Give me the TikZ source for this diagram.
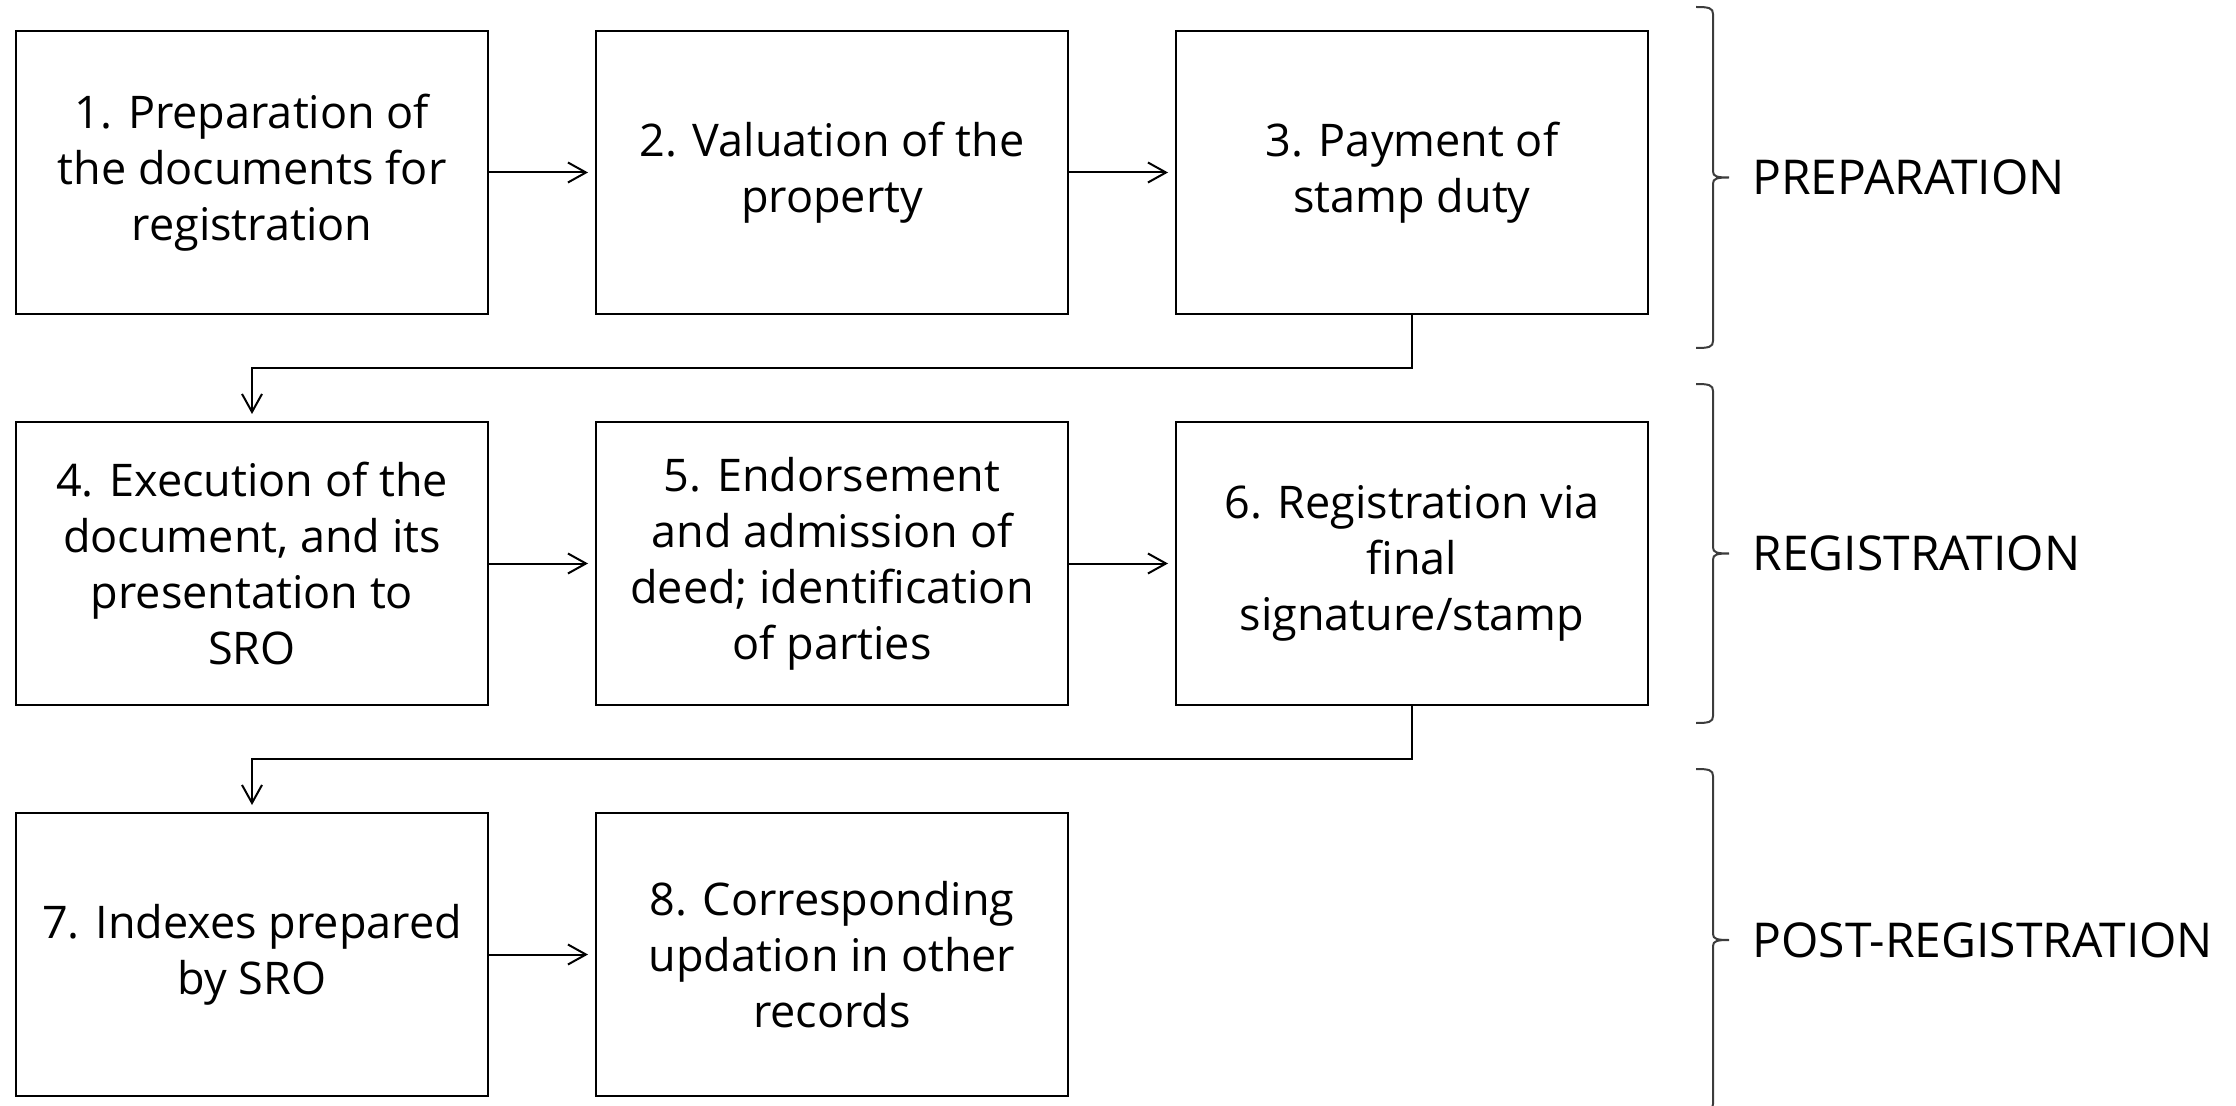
\documentclass[tikz,border=0pt]{standalone}
\usepackage{fontspec}
\setmainfont{Open Sans}
\usetikzlibrary{arrows.meta,positioning,calc}

\tikzset{
  stepbox/.style={draw, line width=1.2pt, minimum width=236pt, minimum height=141.5pt,
    align=center, inner sep=0pt, outer sep=0pt, font=\fontsize{22.5}{28}\selectfont},
  flow/.style={line width=1pt, -{Straight Barb[length=9pt,width=10pt,line width=1pt]}, shorten >=4pt},
  phasebrace/.style={line width=1pt, color={rgb,255:red,60;green,60;blue,60}},
  phase/.style={anchor=west, inner sep=0pt, font=\fontsize{24}{30}\selectfont}
}
% brace with flat hooks: #1 top y, #2 bottom y
\newcommand{\phasebrace}[2]{%
  \draw[phasebrace] (1696,#1) .. controls (1709,#1) and (1713,{#1+1}) .. (1713,{#1+7})
    -- (1713,{(#1+#2)/2-6}) .. controls (1713,{(#1+#2)/2-1}) and (1717,{(#1+#2)/2}) .. (1729,{(#1+#2)/2})
    .. controls (1717,{(#1+#2)/2}) and (1713,{(#1+#2)/2+1}) .. (1713,{(#1+#2)/2+6})
    -- (1713,{#2-7}) .. controls (1713,{#2-1}) and (1709,#2) .. (1696,#2);}

\begin{document}
\begin{tikzpicture}[x=0.5pt,y=-0.5pt,node distance=54pt and 54pt]
	\useasboundingbox (0,0) rectangle (2236,1106);
	
	%Shape: Boxes, row 1
	\node[stepbox] (s1) at (252,172.5) {1. Preparation of\\the documents for\\registration};
	\node[stepbox, right=of s1] (s2) {2. Valuation of the\\property};
	\node[stepbox, right=of s2] (s3) {3. Payment of\\stamp duty};
	%Shape: Boxes, row 2
	\node[stepbox, below=of s1] (s4) {4. Execution of the\\document, and its\\presentation to\\SRO};
	\node[stepbox, right=of s4] (s5) {5. Endorsement\\and admission of\\deed; identification\\of parties};
	\node[stepbox, right=of s5] (s6) {6. Registration via\\final\\signature/stamp};
	%Shape: Boxes, row 3
	\node[stepbox, below=of s4] (s7) {7. Indexes prepared\\by SRO};
	\node[stepbox, right=of s7] (s8) {8. Corresponding\\updation in other\\records};
	
	%Straight Lines
	\draw[flow] (s1.east) -- (s2.west);
	\draw[flow] (s2.east) -- (s3.west);
	\draw[flow] (s4.east) -- (s5.west);
	\draw[flow] (s5.east) -- (s6.west);
	\draw[flow] (s7.east) -- (s8.west);
	%Elbow Lines
	\coordinate (k1) at ($(s3.south)!0.5!(s4.north)$);
	\coordinate (k2) at ($(s6.south)!0.5!(s7.north)$);
	\draw[flow] (s3.south) |- (k1) -| (s4.north);
	\draw[flow] (s6.south) |- (k2) -| (s7.north);
	
	%Shape: Braces
	\phasebrace{7}{348}
	\phasebrace{384}{723}
	\phasebrace{769}{1111}
	
	% Text Node
	\node[phase] (p1) at (1752,177.5) {PREPARATION};
	% Text Node
	\node[phase] (p2) at (1752,553.5) {REGISTRATION};
	% Text Node
	\node[phase] (p3) at (1752,940) {POST-REGISTRATION};
	
\end{tikzpicture}
\end{document}
